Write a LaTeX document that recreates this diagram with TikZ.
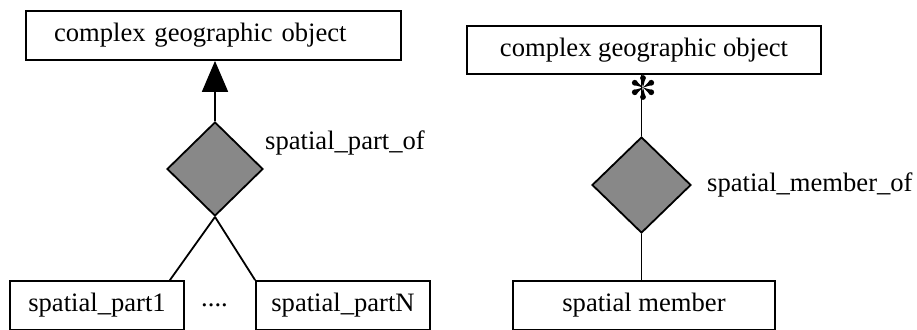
\documentclass[tikz,border=0pt]{standalone}
\usepackage{fontspec}
\setmainfont{Liberation Serif}
\usetikzlibrary{shapes.geometric,arrows.meta}
\definecolor{dgray}{RGB}{136,136,136}
\begin{document}
\begin{tikzpicture}[x=1pt,y=-1pt,
  every node/.style={font=\fontsize{26.6pt}{30pt}\selectfont},
  box/.style={draw, line width=1.8pt, rectangle, minimum height=49pt, inner sep=0pt},
  rel/.style={draw, line width=1.8pt, diamond, fill=dgray, inner sep=0pt},
  conn/.style={line width=1.8pt},
  lbl/.style={anchor=west, inner sep=0pt}]
\useasboundingbox (0,0) rectangle (917,329);
\clip (0,0) rectangle (917,329);
% left diagram
\node[box, minimum width=375pt, text width=319pt, align=left, inner xsep=28pt] (A) at (213.5,35.5) {complex geographic object};
\node[rel, minimum width=96pt, minimum height=94pt] (D1) at (215,169) {};
\node[lbl] (L1) at (265,143) {spatial\_part\_of};
\node[box, minimum width=174pt] (B1) at (97,305.5) {spatial\_part1};
\node[box, minimum width=174pt] (B2) at (343,305.5) {spatial\_partN};
\node (dots) at (214.5,305.5) {....};
\draw[conn, -{Triangle[length=31pt,width=26pt]}] (D1.north) -- (D1.north |- A.south);
\draw[conn] (D1.south) -- ([xshift=-15pt]B1.north east);
\draw[conn] (D1.south) -- (B2.north west);
% right diagram
\node[box, minimum width=354pt, minimum height=48pt] (C) at (644,50) {complex geographic object};
\node[rel, minimum width=99pt, minimum height=96pt] (D2) at (641.5,185) {};
\node[lbl] (L2) at (707,185) {spatial\_member\_of};
\node[box, minimum width=262pt] (E) at (644,305.5) {spatial member};
\draw[conn] (D2.north) -- (D2.north |- C.south);
\coordinate (star) at (643,87.5);
\begin{scope}[shift={(star)}]
  \foreach \a in {90,30,-30,-90,150,210} {
    \fill (0,0) -- (\a-14:8.5) -- (\a+14:8.5) -- cycle;
    \fill (\a:9.5) circle (2.9);
  }
\end{scope}
\draw[conn] (D2.south) -- (D2.south |- E.north);
\end{tikzpicture}
\end{document}
